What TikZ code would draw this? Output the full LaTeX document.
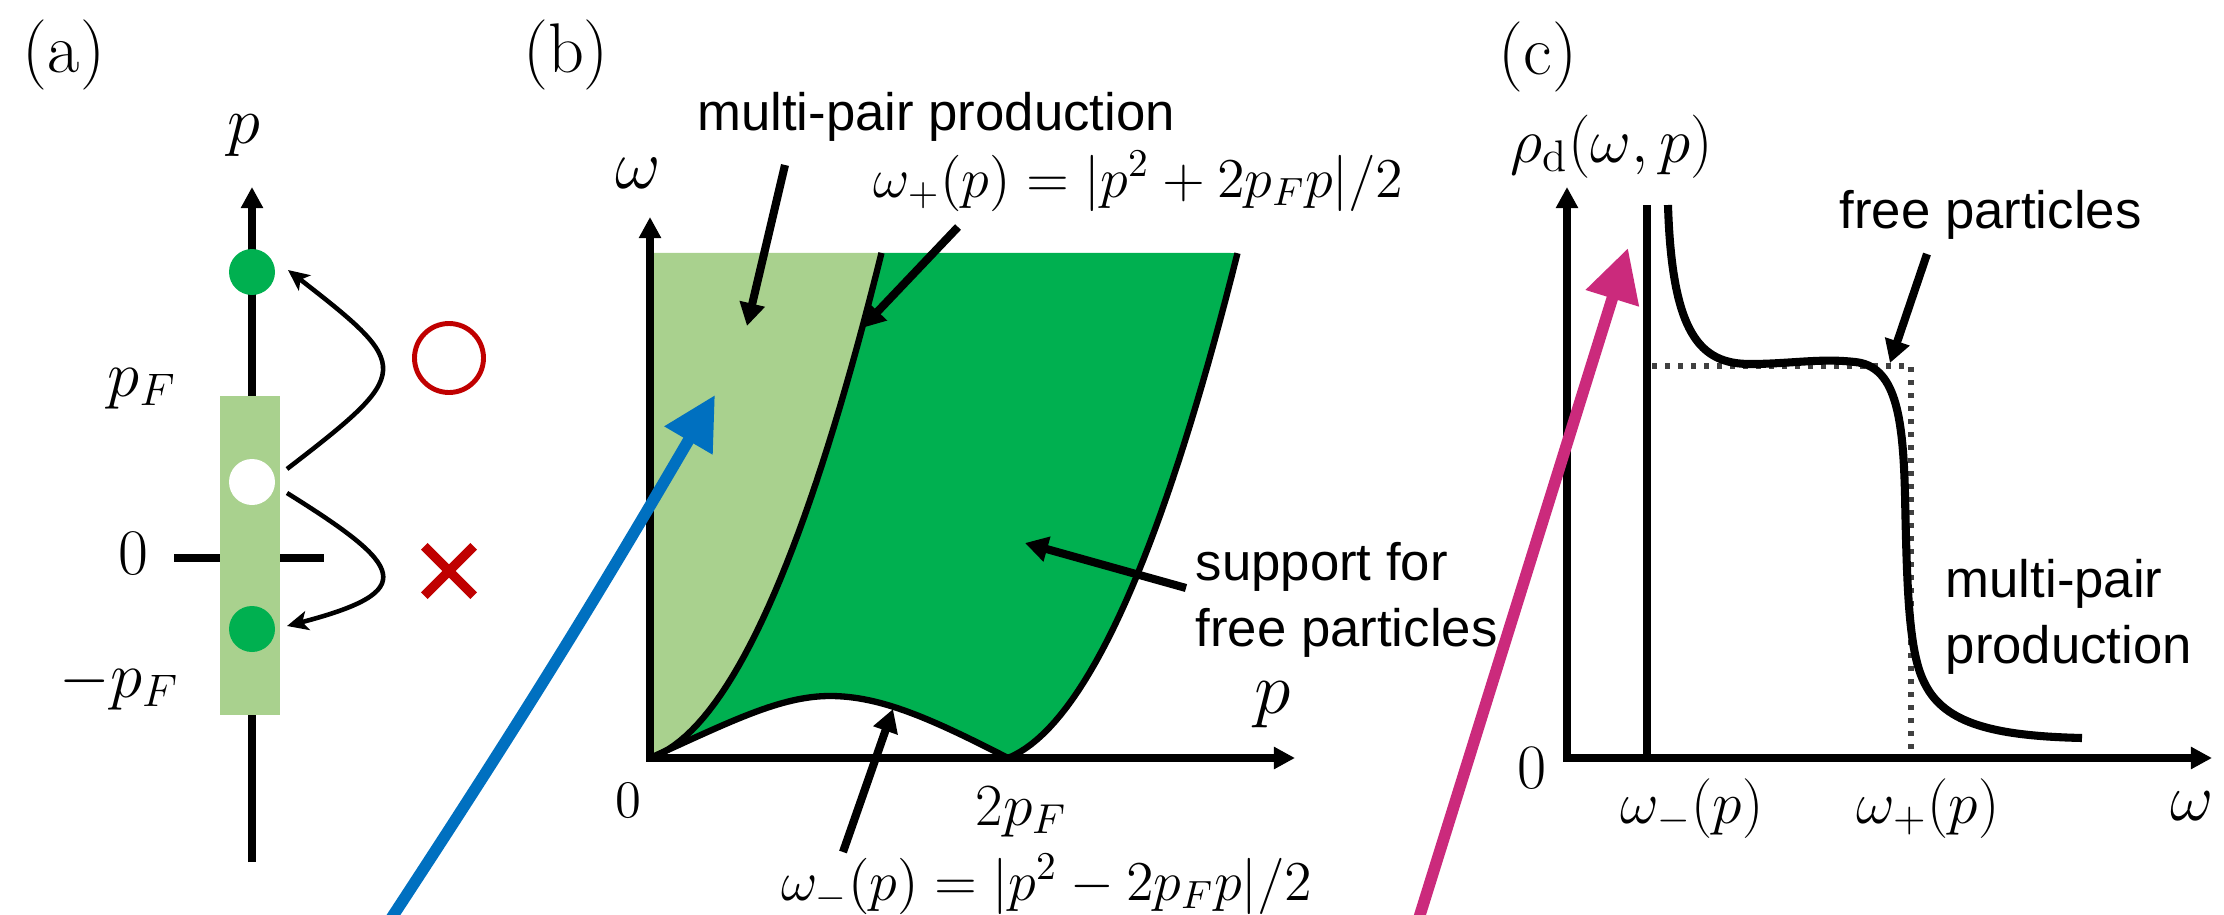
\RequirePackage{fix-cm}
\documentclass[tikz,border=0pt]{standalone}
\usepackage{fontspec}
\newfontfamily\arialfont{Liberation Sans}
\usepackage{tikz}
\usetikzlibrary{arrows.meta,calc,shapes.misc}

\definecolor{ltgreen}{HTML}{A9D18E}
\definecolor{dkgreen}{HTML}{00B050}
\definecolor{pfblue}{HTML}{0070C0}
\definecolor{pfmagenta}{HTML}{CB2A7C}
\definecolor{pfred}{HTML}{C00000}
\definecolor{dotgray}{HTML}{404040}

\tikzset{
	panel/.style={inner sep=0pt, anchor=base, font=\fontsize{20}{24}\selectfont},
	mth/.style={inner sep=0pt, anchor=base, font=\fontsize{#1}{#1}\selectfont},
	mth/.default=16,
	txt/.style={inner sep=0pt, align=left, font=\arialfont\fontsize{15}{18.8}\selectfont},
	axline/.style={line width=2pt, -{Triangle[length=6pt,width=6pt]}},
	axpair/.style={line width=2pt, line join=miter, {Triangle[length=6pt,width=6pt]}-{Triangle[length=6pt,width=6pt]}},
	pointer/.style={line width=2.3pt, -{Triangle[length=6.5pt,width=7pt]}},
	hop/.style={line width=1.3pt, -{Stealth[length=6pt,width=5.5pt,inset=1.5pt]}},
	bigarrow/.style={line width=3.3pt, -{Triangle[length=15pt,width=15pt]}},
	bound/.style={line width=1.8pt, line join=round},
	elec/.style={circle, inner sep=0pt, minimum size=0.46cm},
}

\begin{document}
\begin{tikzpicture}
	\useasboundingbox (0,0) rectangle (22.24,9.14);
	\clip (0,0) rectangle (22.24,9.14);

	% (a) Fermi sea and excitations
	\node[panel] (lbla) at (0.64,8.41) {(a)};
	\draw[axline] (2.52,0.52) -- (2.52,7.27);
	\draw[line width=2pt] (1.74,3.56) -- (3.24,3.56);
	\fill[ltgreen] (2.20,1.99) rectangle (2.80,5.18);
	\node[elec, fill=dkgreen] (ptop) at (2.52,6.42) {};
	\node[elec, fill=white] (hole) at (2.52,4.32) {};
	\node[elec, fill=dkgreen] (pbot) at (2.52,2.85) {};
	\node[mth=19] (pa) at (2.44,7.71) {$p$};
	\node[mth=18.5, anchor=base west] (pfa) at (1.07,5.18) {$p_F$};
	\node[mth=18.5] (zeroa) at (1.33,3.40) {$0$};
	\node[mth=18.5, anchor=base west] (mpfa) at (0.59,2.17) {$-p_F$};

	\draw[hop] ($(hole)+(0.35,0.13)$) .. controls (4.13,5.42) and (4.13,5.47) .. ($(ptop)+(0.36,0.02)$);
	\draw[hop] ($(hole)+(0.35,-0.11)$) .. controls (4.04,3.48) and (4.21,3.23) .. ($(pbot)+(0.35,0.03)$);

	\node[circle, draw=pfred, line width=1.4pt, minimum size=0.69cm, inner sep=0pt] (okmark) at (4.49,5.56) {};
	\node[cross out, draw=pfred, line width=2.7pt, minimum size=0.4cm, inner sep=0pt] (ngmark) at (4.49,3.43) {};

	% (b) support in the (p, omega) plane
	\node[panel] (lblb) at (5.66,8.42) {(b)};
	\begin{scope}[shift={(6.50,1.56)}]
		\fill[ltgreen] (0,0) -- (0,5.05) -- plot[domain=2.315:0,samples=40] (\x,{0.8*\x*\x+0.33*\x}) -- cycle;
		\fill[dkgreen] plot[domain=0:2.315,samples=40] (\x,{0.8*\x*\x+0.33*\x}) -- (5.875,5.05)
			-- plot[domain=2.295:0,samples=40] ({3.58+\x},{0.78*\x*\x+0.41*\x})
			.. controls (2.8,0.4) and (2.3,0.62) .. (1.8,0.62)
			.. controls (1.3,0.62) and (0.8,0.36) .. (0,0) -- cycle;
		\draw[bound] plot[domain=0:2.315,samples=40] (\x,{0.8*\x*\x+0.33*\x});
		\draw[bound] plot[domain=0:2.295,samples=40] ({3.58+\x},{0.78*\x*\x+0.41*\x});
		\draw[bound] (0,0) .. controls (0.8,0.36) and (1.3,0.62) .. (1.8,0.62)
			.. controls (2.3,0.62) and (2.8,0.4) .. (3.58,0);
		\draw[axpair] (0,5.41) |- (6.45,0);
	\end{scope}

	\node[mth=20] (wb) at (6.38,7.26) {$\omega$};
	\node[mth=21] (pb) at (12.73,2.01) {$p$};
	\node[mth=15] (zerob) at (6.28,0.97) {$0$};
	\node[mth=17, anchor=base west] (twopf) at (9.75,0.89) {$2p_F$};
	\node[mth, anchor=base west] (wplus) at (8.73,7.17) {$\omega_+(p) = |p^2 + 2p_F p|/2$};
	\node[mth, anchor=base west] (wminus) at (7.81,0.14) {$\omega_-(p) = |p^2 - 2p_F p|/2$};
	\node[txt, anchor=base] (mppb) at (9.36,7.84) {multi-pair production};
	\node[txt, anchor=west] (suppb) at (11.95,3.14) {support for\\free particles};

	\coordinate (mppTail) at (7.85,7.49);
	\coordinate (mppTip) at (7.47,5.88);
	\coordinate (wpTail) at (9.58,6.87);
	\coordinate (wpTip) at (8.62,5.86);
	\coordinate (suppTail) at (11.86,3.26);
	\coordinate (suppTip) at (10.25,3.71);
	\coordinate (wmTail) at (8.43,0.62);
	\coordinate (wmTip) at (8.93,2.05);
	\draw[pointer] (mppTail) -- (mppTip);
	\draw[pointer] (wpTail) -- (wpTip);
	\draw[pointer] (suppTail) -- (suppTip);
	\draw[pointer] (wmTail) -- (wmTip);

	% (c) spectral function
	\node[panel] (lblc) at (15.38,8.40) {(c)};
	\draw[axpair] (15.67,7.27) |- (22.12,1.56);
	\draw[line width=2pt] (16.47,1.56) -- (16.47,7.09);
	\draw[dotgray, line width=1.5pt, dash pattern=on 1.5pt off 2.2pt] (16.52,5.48) -- (19.11,5.48) -- (19.11,1.62);
	\draw[line width=2.3pt]
		(16.68,7.09) .. controls (16.72,5.8) and (17.0,5.5) .. (17.5,5.5)
		.. controls (17.9,5.5) and (18.2,5.56) .. (18.55,5.52)
		.. controls (18.95,5.48) and (19.03,5.0) .. (19.05,4.2)
		.. controls (19.07,3.2) and (19.09,2.6) .. (19.25,2.3)
		.. controls (19.45,1.9) and (19.95,1.78) .. (20.82,1.76);

	\node[mth=18, anchor=base west] (rhoc) at (15.10,7.52) {$\rho_{\mathrm{d}}(\omega,p)$};
	\node[mth=18] (zeroc) at (15.32,1.26) {$0$};
	\node[mth=17] (wmc) at (16.92,0.91) {$\omega_-(p)$};
	\node[mth=17] (wpc) at (19.28,0.91) {$\omega_+(p)$};
	\node[mth=19] (wc) at (21.92,0.94) {$\omega$};
	\node[txt, anchor=base west] (freec) at (18.39,6.86) {free particles};
	\node[txt, anchor=west] (mppc) at (19.45,2.975) {multi-pair\\production};

	\coordinate (freeTail) at (19.27,6.60);
	\coordinate (freeTip) at (18.90,5.51);
	\draw[pointer] (freeTail) -- (freeTip);

	% links from (a) to (b) and (c)
	\coordinate (blueTail) at (3.81,-0.2);
	\coordinate (blueTip) at (7.15,5.19);
	\coordinate (magTail) at (14.14,-0.2);
	\coordinate (magTip) at (16.28,6.66);
	\draw[bigarrow, pfblue] (blueTail) to[bend right=1.5] (blueTip);
	\draw[bigarrow, pfmagenta] (magTail) -- (magTip);
\end{tikzpicture}
\end{document}
